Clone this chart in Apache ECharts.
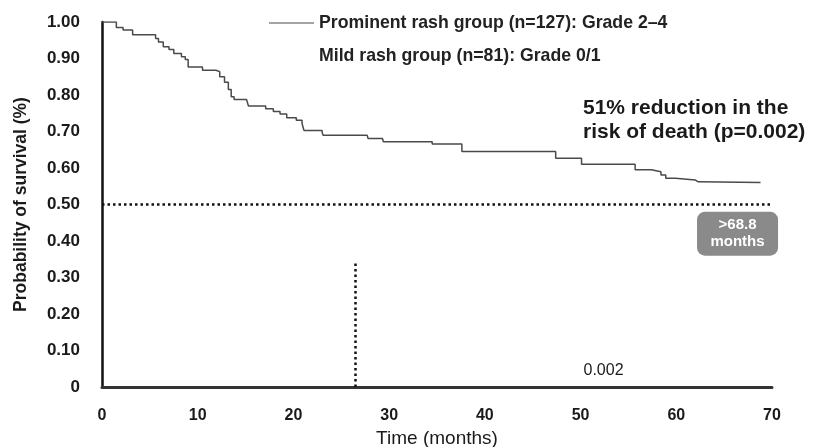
<!DOCTYPE html>
<html>
<head>
<meta charset="utf-8">
<script src="https://cdn.jsdelivr.net/npm/echarts@6/dist/echarts.min.js"></script>
<style>
html,body{margin:0;padding:0;background:#fff;}
#chart{width:816px;height:447px;}
</style>
</head>
<body>
<div id="chart"></div>
<script>
// Kaplan-Meier step curve for prominent rash group: [month, survival]
var prominentMonths = [0, 1.5, 2.2, 3.2, 5.6, 5.9, 6.4, 7.0, 7.5, 8.3, 8.7, 9.0, 10.5, 11.9, 12.3, 12.8, 13.2, 13.5, 13.8, 15.1, 15.3, 17.1, 17.9, 18.6, 19.3, 20.3, 20.9, 21.1, 23.0, 23.1, 27.7, 27.8, 29.3, 29.4, 34.5, 37.6, 47.4, 50.1, 55.7, 57.4, 58.4, 58.9, 59.9, 62.0, 62.3, 68.8];
var prominentSurv   = [1.00, 0.985, 0.978, 0.965, 0.955, 0.945, 0.932, 0.925, 0.914, 0.905, 0.897, 0.877, 0.868, 0.864, 0.85, 0.835, 0.815, 0.795, 0.788, 0.784, 0.77, 0.762, 0.755, 0.748, 0.738, 0.731, 0.722, 0.703, 0.697, 0.69, 0.688, 0.681, 0.677, 0.672, 0.666, 0.645, 0.627, 0.61, 0.595, 0.59, 0.581, 0.572, 0.567, 0.562, 0.56, 0.56];
var yTicks = [0, 0.1, 0.2, 0.3, 0.4, 0.5, 0.6, 0.7, 0.8, 0.9, 1.0];
var xTicks = [0, 10, 20, 30, 40, 50, 60, 70];
var medianLine = [[0, 0.5], [70, 0.5]];
var verticalMark = [[26.5, 0], [26.5, 0.34]];
var pLabelPos = [52.4, 0.045];
var boxPos = [66.4, 0.42];

var prominentData = prominentMonths.map(function (m, i) { return [m, prominentSurv[i]]; });

var chart = echarts.init(document.getElementById('chart'));
var textColor = '#1a1a1a';
var sans = 'Liberation Sans, Arial, sans-serif';
var narrow = 'Liberation Sans Narrow, Arial Narrow, Liberation Sans, sans-serif';
chart.setOption({
  animation: false,
  backgroundColor: '#fff',
  grid: { left: 102, right: 44, top: 22, bottom: 60, outerBoundsMode: 'none', containLabel: false },
  legend: {
    left: 268, top: 14, orient: 'vertical', itemGap: 15, padding: 0,
    itemWidth: 45, itemHeight: 14,
    textStyle: { fontFamily: sans, fontWeight: 'bold', fontSize: 17.7, color: '#222' },
    data: [
      { name: 'Prominent rash group (n=127): Grade 2\u20134', icon: 'path://M0,0L45,0L45,1L0,1Z' },
      { name: 'Mild rash group (n=81): Grade 0/1', itemStyle: { opacity: 0 }, lineStyle: { opacity: 0 } }
    ]
  },
  xAxis: {
    type: 'value', min: 0, max: 70, interval: 10,
    name: 'Time (months)', nameLocation: 'middle', nameGap: 42,
    nameTextStyle: { fontFamily: narrow, fontSize: 19, color: textColor },
    axisLine: { lineStyle: { color: '#333', width: 3 } },
    axisTick: { show: false },
    splitLine: { show: false },
    axisLabel: { margin: 21, fontFamily: narrow, fontWeight: 'bold', fontSize: 16, color: textColor }
  },
  yAxis: {
    type: 'value', min: 0, max: 1, interval: 0.1,
    name: 'Probability of survival (%)', nameLocation: 'middle', nameGap: 72,
    nameTextStyle: { fontFamily: sans, fontWeight: 'bold', fontSize: 17.5, color: textColor },
    axisLine: { show: true, lineStyle: { color: '#111', width: 2.5 } },
    axisTick: { show: false },
    splitLine: { show: false },
    axisLabel: {
      margin: 22, fontFamily: sans, fontWeight: 'bold', fontSize: 17, color: textColor,
      formatter: function (v) { return v === 0 ? '0' : v.toFixed(2); }
    }
  },
  series: [
    {
      name: 'Prominent rash group (n=127): Grade 2\u20134',
      type: 'line', step: 'end', showSymbol: false, symbol: 'none',
      data: prominentData,
      lineStyle: { color: '#4a4a4a', width: 1.5 },
      itemStyle: { color: '#4a4a4a' },
      z: 3,
      markLine: {
        silent: true, symbol: 'none', label: { show: false },
        lineStyle: { color: '#111', type: [2.5, 3], width: 2.5 },
        data: [
          [{ coord: medianLine[0] }, { coord: medianLine[1] }],
          [{ coord: verticalMark[0] }, { coord: verticalMark[1] }]
        ]
      },
      markPoint: {
        silent: true, symbol: 'rect', symbolSize: 0,
        data: [
          { coord: pLabelPos, label: { show: true, formatter: '0.002', position: 'inside', fontFamily: narrow, fontSize: 16, color: textColor } },
          { coord: boxPos, label: { show: true, formatter: '>68.8\nmonths', position: 'inside', align: 'center', verticalAlign: 'middle',
            backgroundColor: '#8a8a8a', borderRadius: 8, padding: [5, 10], width: 61, lineHeight: 17,
            fontFamily: sans, fontWeight: 'bold', fontSize: 15, color: '#fff' } }
        ]
      }
    },
    {
      name: 'Mild rash group (n=81): Grade 0/1',
      type: 'line', data: [], symbol: 'none', lineStyle: { opacity: 0 }
    }
  ],
  graphic: [
    {
      type: 'text', left: 583, top: 96,
      style: { text: '51% reduction in the\nrisk of death (p=0.002)', fontFamily: sans, fontWeight: 'bold', fontSize: 21, lineHeight: 24, fill: textColor }
    }
  ]
});
</script>
</body>
</html>
